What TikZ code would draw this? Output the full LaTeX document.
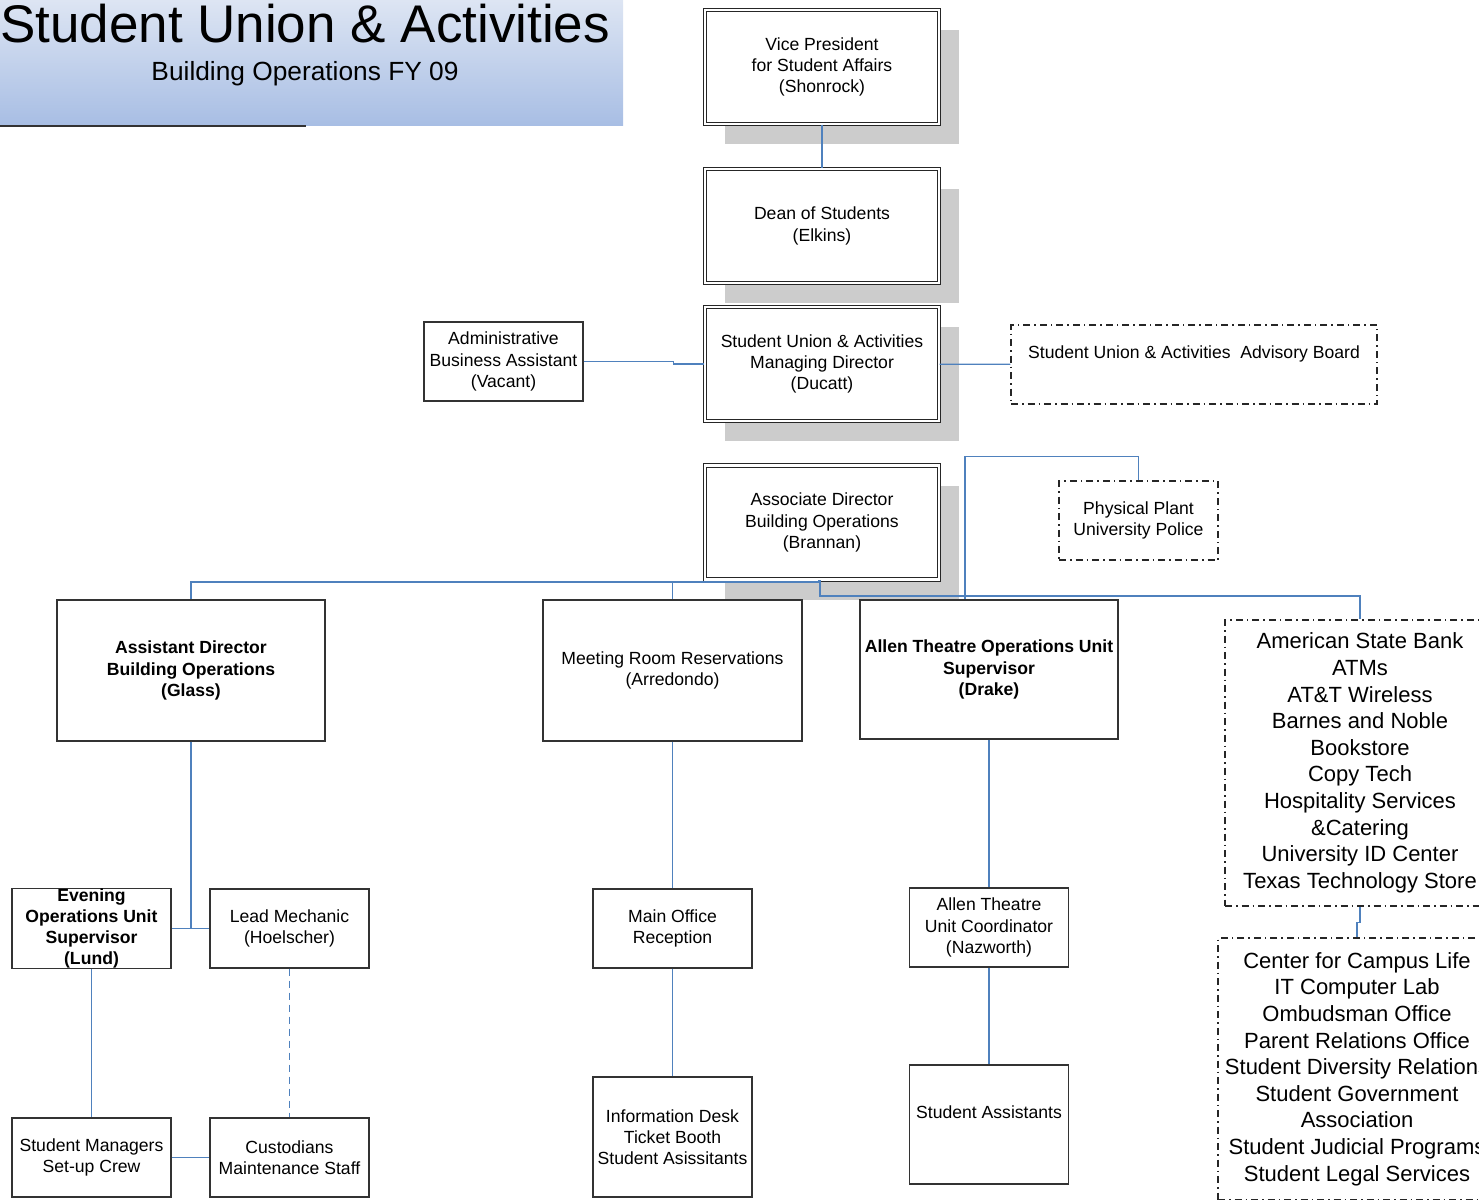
\documentclass[tikz,border=0pt]{standalone}
\usepackage{fontspec}
\setmainfont{Liberation Sans}
\usepackage{xcolor}
\usetikzlibrary{calc, positioning, shadows}

\definecolor{linkblue}{RGB}{79,129,189}
\definecolor{boxgray}{RGB}{204,204,204}
\definecolor{bandtop}{RGB}{221,229,243}
\definecolor{bandbot}{RGB}{168,190,228}

\begin{document}
\begin{tikzpicture}[x=1pt,y=-1pt,thick,font=\fontsize{17.6}{21.2}\selectfont,
  chief node/.style={rectangle,draw=black!85,line width=1.1pt,double=white,double distance=2.2pt,fill=white,minimum width=234pt,minimum height=114pt,align=center,drop shadow={shadow xshift=20pt,shadow yshift=-20pt,fill=boxgray,opacity=1}},
  main node/.style={rectangle,draw=black!80,line width=1.3pt,fill=white,minimum width=159pt,minimum height=79pt,align=center,inner sep=2pt},
  alt node/.style={rectangle,draw=black!85,line width=1.4pt,dash pattern=on 7pt off 4pt on 1.5pt off 4pt,align=center},
  bold node/.style={font=\fontsize{17.6}{21.2}\selectfont\bfseries},
  list node/.style={font=\fontsize{22}{26.6}\selectfont},
  link/.style={draw=linkblue,line width=1.2pt}]

  \clip (0,0) rectangle (1479,1199);

  % banner
  \shade[top color=bandtop,bottom color=bandbot] (0,0) rectangle (623,125);
  \draw[line width=2.5pt,black!80] (0,126) -- (306,126);
  \node[font=\fontsize{53}{60}\selectfont,anchor=base] (t1) at (305,42) {Student Union \& Activities};
  \node[font=\fontsize{26.3}{30}\selectfont,anchor=base] (t2) at (305,80) {Building Operations FY 09};

  % top chain
  \node[chief node] (1) at (822,67) {Vice President\\for Student Affairs\\(Shonrock)};
  \node[chief node] (2) at (822,226) {Dean of Students\\(Elkins)};
  \node[chief node] (3) at (822,364) {Student Union \& Activities\\Managing Director\\(Ducatt)};
  \node[chief node] (4) at (822,522.5) {Associate Director\\Building Operations\\(Brannan)};

  \node[main node] (5) at (503.5,361.5) {Administrative\\Business Assistant\\(Vacant)};
  \node[alt node,minimum width=366pt,minimum height=79pt,text depth=25pt] (6) at (1194,364.5) {Student Union \& Activities\ \ Advisory Board};
  \node[alt node,minimum width=159pt,minimum height=79pt] (7) at (1138.5,520.5) {Physical Plant\\University Police};

  % units
  \node[main node,bold node,minimum width=268pt,minimum height=141pt] (8) at (191,670.5) {Assistant Director\\Building Operations\\(Glass)};
  \node[main node,minimum width=259pt,minimum height=141pt] (9) at (672.5,670.5) {Meeting Room Reservations\\(Arredondo)};
  \node[main node,bold node,minimum width=258pt,minimum height=139pt] (10) at (989,669.5) {Allen Theatre Operations Unit\\Supervisor\\(Drake)};
  \node[alt node,list node,minimum width=270pt,minimum height=286pt] (11) at (1360,763) {American State Bank\\ATMs\\AT\&T Wireless\\Barnes and Noble\\Bookstore\\Copy Tech\\Hospitality Services\\\&Catering\\University ID Center\\Texas Technology Store};
  \node[alt node,list node,minimum width=278pt,minimum height=262pt] (12) at (1357,1069) {Center for Campus Life\\IT Computer Lab\\Ombudsman Office\\Parent Relations Office\\Student Diversity Relations\\Student Government\\Association\\Student Judicial Programs\\Student Legal Services};

  % staff
  \node[main node,bold node,inner ysep=0pt] (13) at (91.5,928.5) {Evening\\Operations Unit\\Supervisor\\(Lund)};
  \node[main node] (14) at (289.5,928.5) {Lead Mechanic\\(Hoelscher)};
  \node[main node] (15) at (91.5,1157.5) {Student Managers\\Set-up Crew};
  \node[main node] (16) at (289.5,1157.5) {Custodians\\Maintenance Staff};
  \node[main node] (17) at (672.5,928.5) {Main Office\\Reception};
  \node[main node,minimum height=120pt] (18) at (672.5,1137) {Information Desk\\Ticket Booth\\Student Asissitants};
  \node[main node] (19) at (989,927.5) {Allen Theatre\\Unit Coordinator\\(Nazworth)};
  \node[main node,minimum height=119pt,text depth=25pt] (20) at (989,1124.5) {Student Assistants};

  % connectors
  \draw[link] (1) -- (2);
  \draw[link] (3) -- (6);
  \draw[link] (13) -- (15);
  \draw[link] (15) -- (16);
  \draw[link] (9) -- (17);
  \draw[link] (17) -- (18);
  \draw[link] (10) -- (19);
  \draw[link] (19) -- (20);
  \draw[link,dash pattern=on 7pt off 5pt] (14) -- (16);

  \coordinate (bus) at ([xshift=-3pt,yshift=-2pt]4.south);
  \draw[link] (5.east) -- ++(90,0) |- (3.west);
  \draw[link] ([xshift=-3pt]4.south) -- (bus);
  \draw[link] (bus) -| (8.north);
  \draw[link] (bus) -| (9.north);
  \draw[link] ([xshift=-2pt]4.south) -- ++(0,16) -| (11.north);
  \draw[link] ([xshift=-24pt]10.north) -- ++(0,-143) -| (7.north);
  \draw[link] (11.south) -- ++(0,16) -| (12.north);
  \draw[link] (8.south) |- (13.east);
  \draw[link] (8.south) |- (14.west);

\end{tikzpicture}
\end{document}
